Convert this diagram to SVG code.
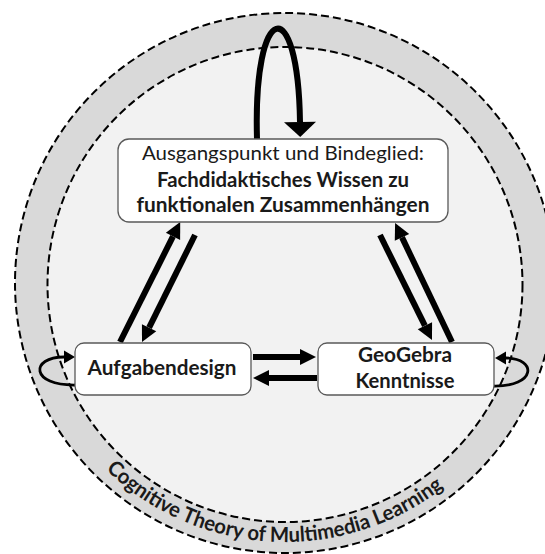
<svg xmlns="http://www.w3.org/2000/svg" width="545" height="554" viewBox="0 0 545 554">
<style>
.ring{stroke:#000;stroke-width:2;stroke-dasharray:8 4}
.box{fill:#fff;stroke:#595959;stroke-width:1.3}
.t{font-family:Lato,"Open Sans","Liberation Sans",sans-serif;fill:#1a1a1a;text-anchor:middle}
.b{font-weight:bold}
.thick{fill:none;stroke:#000;stroke-width:6}
.thin{fill:none;stroke:#000;stroke-width:2.8}
</style>
<defs>
<marker id="big" markerUnits="userSpaceOnUse" markerWidth="17" markerHeight="17" refX="0" refY="8" orient="auto" overflow="visible"><path d="M0,0 L16,8 L0,16 Z" fill="#000"/></marker>
<marker id="wide" markerUnits="userSpaceOnUse" markerWidth="16" markerHeight="32" refX="0" refY="16" orient="auto" overflow="visible"><path d="M0,0 L15,16 L0,32 Z" fill="#000"/></marker>
<marker id="small" markerUnits="userSpaceOnUse" markerWidth="12" markerHeight="14" refX="0" refY="6.5" orient="auto" overflow="visible"><path d="M0,0 L11,6.5 L0,13 Z" fill="#000"/></marker>
<path id="arc" d="M 27 284 A 258 258 0 0 0 543 284"/>
</defs>
<rect width="545" height="554" fill="#fff"/>
<g id="outer-ring">
<circle cx="285" cy="283" r="270" fill="#d9d9d9" class="ring"/>
<circle cx="285" cy="284.5" r="237.5" fill="#f2f2f2" class="ring"/>
<text class="t b" font-size="21"><textPath href="#arc" startOffset="391.5" textLength="369" lengthAdjust="spacingAndGlyphs">Cognitive Theory of Multimedia Learning</textPath></text>
</g>
<g id="connectors">
<path class="thick" d="M 257 139 C 253 0, 298 -10, 300 122" marker-end="url(#wide)"/>
<path class="thick" d="M 120 342 L 173 236.4" marker-end="url(#big)"/>
<path class="thick" d="M 195 235 L 149.1 327.7" marker-end="url(#big)"/>
<path class="thick" d="M 380 235 L 424.9 325.7" marker-end="url(#big)"/>
<path class="thick" d="M 452 342 L 402 237.4" marker-end="url(#big)"/>
<path class="thick" d="M 253 357 L 300 357" marker-end="url(#big)"/>
<path class="thick" d="M 317 378 L 269 378" marker-end="url(#big)"/>
<path class="thin" d="M 76 385 C 30 386, 30 357, 64 357" marker-end="url(#small)"/>
<path class="thin" d="M 493 386 C 537 387, 537 358, 506 358" marker-end="url(#small)"/>
</g>
<g id="node-fachdidaktik">
<rect class="box" x="118" y="139" width="330" height="83" rx="11"/>
<text class="t" x="283" y="160" font-size="20" textLength="282" lengthAdjust="spacingAndGlyphs">Ausgangspunkt und Bindeglied:</text>
<text class="t b" x="283" y="187" font-size="20" textLength="252" lengthAdjust="spacingAndGlyphs">Fachdidaktisches Wissen zu</text>
<text class="t b" x="283" y="212" font-size="20" textLength="293" lengthAdjust="spacingAndGlyphs">funktionalen Zusammenhängen</text>
</g>
<g id="node-aufgabendesign">
<rect class="box" x="75" y="343" width="176" height="52" rx="9"/>
<text class="t b" x="162" y="375" font-size="20" textLength="149" lengthAdjust="spacingAndGlyphs">Aufgabendesign</text>
</g>
<g id="node-geogebra">
<rect class="box" x="318" y="343" width="176" height="52" rx="9"/>
<text class="t b" x="405" y="362" font-size="20" textLength="94" lengthAdjust="spacingAndGlyphs">GeoGebra</text>
<text class="t b" x="405" y="388" font-size="20" textLength="99" lengthAdjust="spacingAndGlyphs">Kenntnisse</text>
</g>
</svg>
